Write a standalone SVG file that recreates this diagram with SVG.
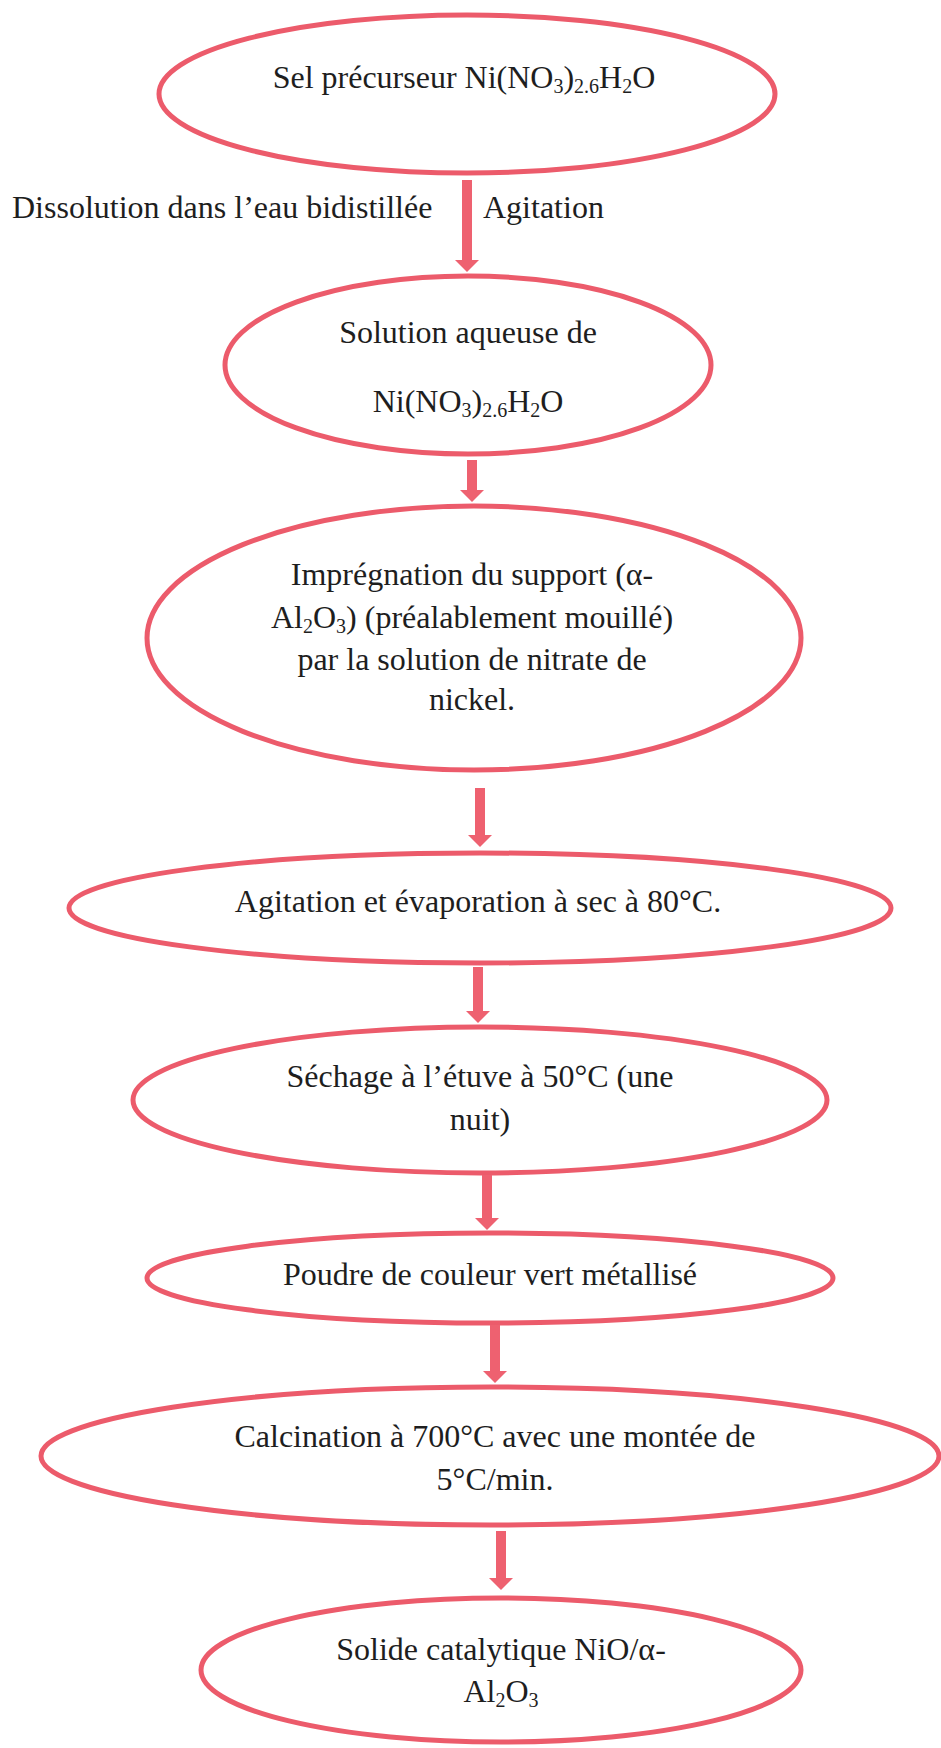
<svg xmlns="http://www.w3.org/2000/svg" width="941" height="1748" viewBox="0 0 941 1748">
<style>
.node ellipse{fill:none;stroke:#ec5b6b;stroke-width:5}
text{font-family:"Liberation Serif","Times New Roman",serif;font-size:32px;fill:#1e1e1e;text-anchor:middle}
.sub{font-size:20px}
.conn line{stroke:#ee6170;stroke-width:10}
</style>
<defs>
<marker id="ah" viewBox="0 0 12 24" refX="0" refY="12" markerWidth="12" markerHeight="24" markerUnits="userSpaceOnUse" orient="auto">
<path d="M0,0 L12,12 L0,24 z" fill="#ee6170"/>
</marker>
</defs>
<rect width="941" height="1748" fill="#ffffff"/>

<g id="n1" class="node">
<ellipse cx="467" cy="94" rx="308" ry="79"/>
<text x="464" y="88">Sel précurseur Ni(NO<tspan class="sub" dy="5">3</tspan><tspan dy="-5">)</tspan><tspan class="sub" dy="5">2.6</tspan><tspan dy="-5">H</tspan><tspan class="sub" dy="5">2</tspan><tspan dy="-5">O</tspan></text>
</g>

<g id="labels">
<text x="12" y="218" style="text-anchor:start">Dissolution dans l’eau bidistillée</text>
<text x="483" y="218" style="text-anchor:start">Agitation</text>
</g>

<g id="n2" class="node">
<ellipse cx="468" cy="365" rx="243" ry="89"/>
<text x="468" y="343">Solution aqueuse de</text>
<text x="468" y="412">Ni(NO<tspan class="sub" dy="5">3</tspan><tspan dy="-5">)</tspan><tspan class="sub" dy="5">2.6</tspan><tspan dy="-5">H</tspan><tspan class="sub" dy="5">2</tspan><tspan dy="-5">O</tspan></text>
</g>

<g id="n3" class="node">
<ellipse cx="474" cy="638" rx="327" ry="132"/>
<text x="472" y="585">Imprégnation du support (α-</text>
<text x="472" y="628">Al<tspan class="sub" dy="5">2</tspan><tspan dy="-5">O</tspan><tspan class="sub" dy="5">3</tspan><tspan dy="-5">) (préalablement mouillé)</tspan></text>
<text x="472" y="670">par la solution de nitrate de</text>
<text x="472" y="710">nickel.</text>
</g>

<g id="n4" class="node">
<ellipse cx="480" cy="908" rx="411" ry="55"/>
<text x="478" y="912">Agitation et évaporation à sec à 80°C.</text>
</g>

<g id="n5" class="node">
<ellipse cx="480" cy="1100" rx="347" ry="73"/>
<text x="480" y="1087">Séchage à l’étuve à 50°C (une</text>
<text x="480" y="1130">nuit)</text>
</g>

<g id="n6" class="node">
<ellipse cx="490" cy="1278" rx="343" ry="45"/>
<text x="490" y="1285">Poudre de couleur vert métallisé</text>
</g>

<g id="n7" class="node">
<ellipse cx="490" cy="1456" rx="449" ry="69"/>
<text x="495" y="1447">Calcination à 700°C avec une montée de</text>
<text x="495" y="1490">5°C/min.</text>
</g>

<g id="n8" class="node">
<ellipse cx="501" cy="1670" rx="300" ry="72"/>
<text x="501" y="1660">Solide catalytique NiO/α-</text>
<text x="501" y="1702">Al<tspan class="sub" dy="5">2</tspan><tspan dy="-5">O</tspan><tspan class="sub" dy="5">3</tspan></text>
</g>

<g id="connectors" class="conn">
<line x1="467" y1="180" x2="467" y2="260" marker-end="url(#ah)"/>
<line x1="472" y1="460" x2="472" y2="490" marker-end="url(#ah)"/>
<line x1="480" y1="788" x2="480" y2="835" marker-end="url(#ah)"/>
<line x1="478" y1="967" x2="478" y2="1011" marker-end="url(#ah)"/>
<line x1="487" y1="1175" x2="487" y2="1218" marker-end="url(#ah)"/>
<line x1="495" y1="1325" x2="495" y2="1371" marker-end="url(#ah)"/>
<line x1="501" y1="1531" x2="501" y2="1578" marker-end="url(#ah)"/>
</g>
</svg>
